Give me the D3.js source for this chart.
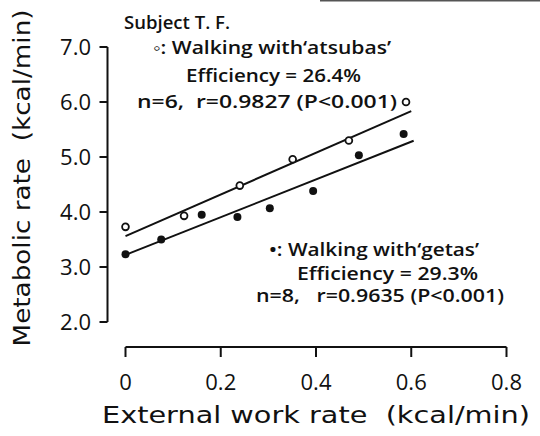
<!DOCTYPE html>
<html>
<head>
<meta charset="utf-8">
<script src="https://cdn.jsdelivr.net/npm/d3@7"></script>
<style>
  body { margin: 0; background: #fff; }
  text { fill: #111; white-space: pre; }
</style>
</head>
<body>
<div id="chart"></div>
<script>
var width = 540;
var height = 436;

// walking with 'atsubas' (open circles)
var atsubasX = [0.0, 0.123, 0.24, 0.351, 0.469, 0.589];
var atsubasY = [3.73, 3.93, 4.48, 4.96, 5.30, 6.0];
// walking with 'getas' (filled circles)
var getasX = [0.0, 0.075, 0.16, 0.235, 0.303, 0.394, 0.49, 0.584];
var getasY = [3.23, 3.50, 3.95, 3.91, 4.07, 4.38, 5.03, 5.42];

// regression lines: [intercept, slope, xEnd]
var atsubasFit = [3.56, 3.79, 0.6];
var getasFit = [3.22, 3.43, 0.605];

var xTicks = [0, 0.2, 0.4, 0.6, 0.8];
var xTickLabels = ['0', '0.2', '0.4', '0.6', '0.8'];
var yTicks = [2, 3, 4, 5, 6, 7];
var yTickLabels = ['2.0', '3.0', '4.0', '5.0', '6.0', '7.0'];

var svg = d3.select('#chart')
    .append('svg')
    .attr('width', width)
    .attr('height', height);

var x = d3.scaleLinear().domain([0, 0.8]).range([125.5, 506.5]);
var y = d3.scaleLinear().domain([2, 7]).range([322, 47]);

var yAxisX = 107.5;
var xAxisY = 347;

// scan artifact at top
svg.append('line')
    .attr('x1', 320).attr('x2', 540)
    .attr('y1', 0.8).attr('y2', 0.8)
    .attr('stroke', '#555').attr('stroke-width', 1.6);

// y axis
svg.append('line')
    .attr('x1', yAxisX).attr('x2', yAxisX)
    .attr('y1', y(7)).attr('y2', y(2))
    .attr('stroke', '#111').attr('stroke-width', 2);
svg.selectAll('.ytick')
    .data(yTicks)
    .enter()
    .append('line')
    .attr('x1', yAxisX - 8).attr('x2', yAxisX)
    .attr('y1', (d) => y(d)).attr('y2', (d) => y(d))
    .attr('stroke', '#111').attr('stroke-width', 2);
svg.selectAll('.ylab')
    .data(yTicks)
    .enter()
    .append('text')
    .attr('x', 91)
    .attr('y', (d) => y(d))
    .attr('dy', '0.36em')
    .attr('text-anchor', 'end')
    .style('font-family', 'Open Sans')
    .style('font-size', '22px')
    .style('font-weight', '500')
    .text((d, i) => yTickLabels[i]);

// x axis
svg.append('line')
    .attr('x1', x(0)).attr('x2', x(0.8))
    .attr('y1', xAxisY).attr('y2', xAxisY)
    .attr('stroke', '#111').attr('stroke-width', 2);
svg.selectAll('.xtick')
    .data(xTicks)
    .enter()
    .append('line')
    .attr('x1', (d) => x(d)).attr('x2', (d) => x(d))
    .attr('y1', xAxisY).attr('y2', xAxisY + 10)
    .attr('stroke', '#111').attr('stroke-width', 2);
svg.selectAll('.xlab')
    .data(xTicks)
    .enter()
    .append('text')
    .attr('x', (d) => x(d))
    .attr('y', 382)
    .attr('dy', '0.36em')
    .attr('text-anchor', 'middle')
    .style('font-family', 'Open Sans')
    .style('font-size', '22px')
    .style('font-weight', '500')
    .text((d, i) => xTickLabels[i]);

// axis titles
svg.append('text')
    .attr('x', 316).attr('y', 415)
    .attr('dy', '0.36em')
    .attr('text-anchor', 'middle')
    .attr('textLength', 428)
    .attr('lengthAdjust', 'spacingAndGlyphs')
    .style('font-family', 'DejaVu Sans')
    .style('font-size', '23px')
    .text('External work rate  (kcal/min)');
svg.append('text')
    .attr('transform', 'translate(22,178) rotate(-90)')
    .attr('dy', '0.36em')
    .attr('text-anchor', 'middle')
    .attr('textLength', 337)
    .attr('lengthAdjust', 'spacingAndGlyphs')
    .style('font-family', 'DejaVu Sans')
    .style('font-size', '23px')
    .text('Metabolic rate  (kcal/min)');

// regression lines
var fits = [atsubasFit, getasFit];
svg.selectAll('.fit')
    .data(fits)
    .enter()
    .append('line')
    .attr('x1', x(0))
    .attr('y1', (d) => y(d[0]))
    .attr('x2', (d) => x(d[2]))
    .attr('y2', (d) => y(d[0] + d[1] * d[2]))
    .attr('stroke', '#111')
    .attr('stroke-width', 2);

// points
svg.selectAll('.open')
    .data(atsubasX)
    .enter()
    .append('circle')
    .attr('cx', (d) => x(d))
    .attr('cy', (d, i) => y(atsubasY[i]))
    .attr('r', 3.4)
    .attr('fill', '#fff')
    .attr('stroke', '#111')
    .attr('stroke-width', 1.8);
svg.selectAll('.filled')
    .data(getasX)
    .enter()
    .append('circle')
    .attr('cx', (d) => x(d))
    .attr('cy', (d, i) => y(getasY[i]))
    .attr('r', 4)
    .attr('fill', '#111');

// annotations
var note = (tx, ty, str, len) => {
    svg.append('text')
        .attr('x', tx).attr('y', ty)
        .attr('dy', '0.36em')
        .attr('textLength', len)
        .attr('lengthAdjust', 'spacingAndGlyphs')
        .style('font-family', 'Open Sans')
        .style('font-size', '18px')
        .style('font-weight', '600')
        .text(str);
};
note(124, 23, 'Subject T. F.', 106);
note(153, 48, '◦: Walking with‘atsubas’', 238);
note(186, 76, 'Efficiency = 26.4%', 175);
note(137, 102, 'n=6,  r=0.9827 (P<0.001)', 260);
note(269, 250, '•: Walking with‘getas’', 210);
note(297, 274, 'Efficiency = 29.3%', 181);
note(256, 296, 'n=8,   r=0.9635 (P<0.001)', 248);
</script>
</body>
</html>
